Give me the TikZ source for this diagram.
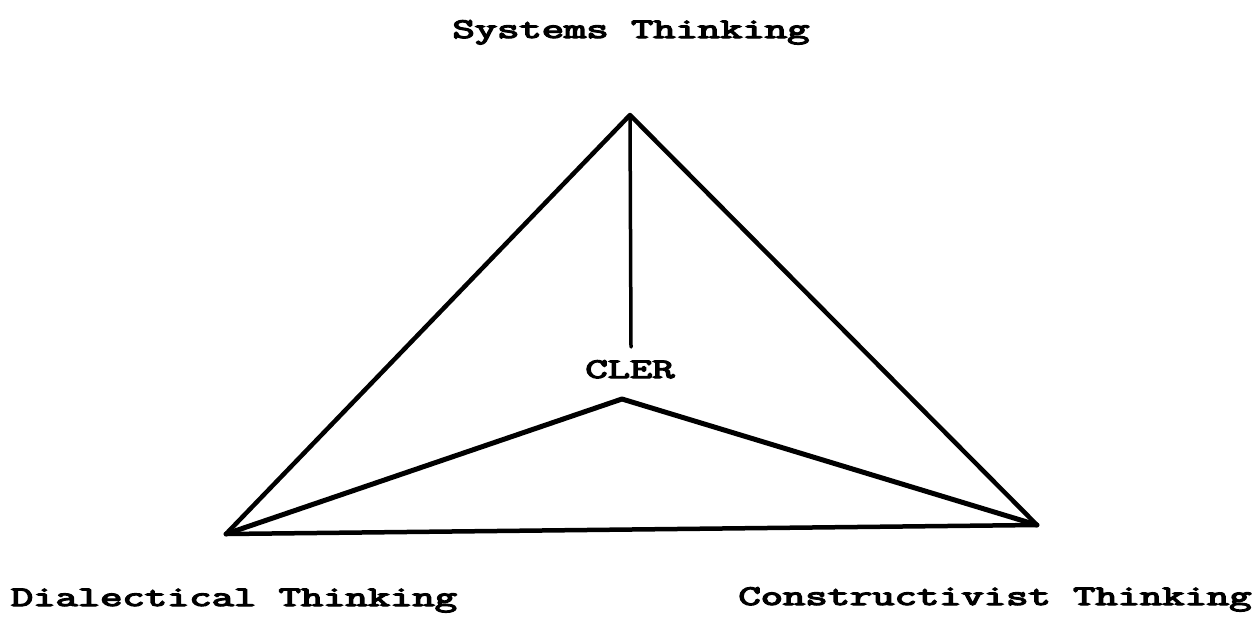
\documentclass[tikz,border=0pt]{standalone}
\usepackage{fontspec}
\newfontfamily\typewr{Latin Modern Mono}[FakeBold=4]
\tikzset{
  lbl/.style={inner sep=0pt, anchor=base, font=\fontsize{28.5}{28.5}\selectfont\typewr},
  edge/.style={line width=4.5pt, line cap=round, line join=round},
}
\newcommand{\wide}[1]{\scalebox{1.52}[1]{#1}}
\begin{document}
\begin{tikzpicture}[x=1pt,y=-1pt]
\useasboundingbox (0,0) rectangle (1258,616);
\coordinate (top) at (630,115);
\coordinate (bl) at (226,534);
\coordinate (br) at (1037,525);
\coordinate (mid) at (622,399);
\coordinate (vend) at (631,347);
\node[lbl] (sys) at (631,38) {\wide{Systems Thinking}};
\node[lbl] (cler) at (630,378) {\wide{CLER}};
\node[lbl] (dia) at (234,606) {\wide{Dialectical Thinking}};
\node[lbl] (con) at (995,605) {\wide{Constructivist Thinking}};
\draw[edge] (top) -- (bl) -- (br) -- cycle;
\draw[edge, line width=5pt] (bl) -- (mid) -- (br);
\draw[edge, line width=3.5pt] (top) -- (vend);
\end{tikzpicture}
\end{document}
